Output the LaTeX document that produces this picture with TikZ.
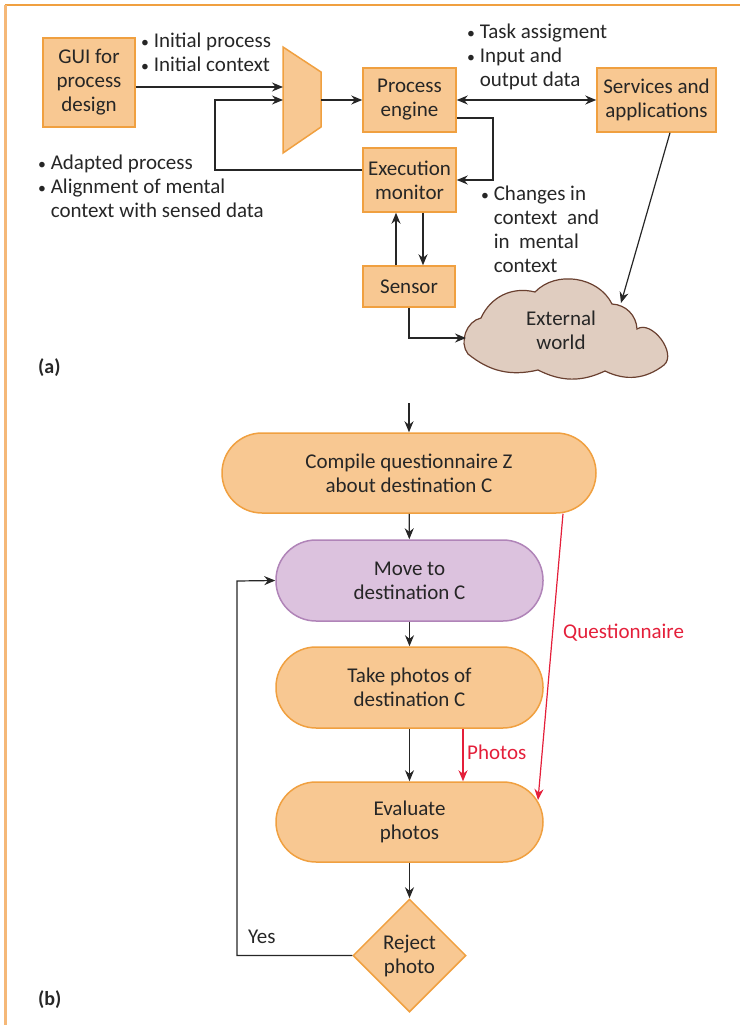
\documentclass[tikz,border=0pt]{standalone}
\usepackage{fontspec}
\usepackage{graphicx}
\setmainfont{Carlito}
\usetikzlibrary{arrows.meta,shapes.geometric}
\definecolor{boxfill}{HTML}{F8C892}
\definecolor{boxline}{HTML}{F0A040}
\definecolor{ink}{HTML}{262626}
\definecolor{purfill}{HTML}{DCC2DE}
\definecolor{purline}{HTML}{B084B8}
\definecolor{cloudfill}{HTML}{E0CDC0}
\definecolor{cloudline}{HTML}{6A4030}
\definecolor{redink}{HTML}{E41F3A}
\definecolor{frametop}{HTML}{F0A040}
\definecolor{frameleft}{HTML}{F5B878}
\newcommand{\bul}{\scalebox{0.75}{\textbullet}\ }
\newcommand{\bulgap}{\hphantom{\bul}}
\begin{document}
\begin{tikzpicture}[x=1pt,y=-1pt,
  every node/.style={font=\fontsize{21}{24}\selectfont, text=ink},
  box/.style={draw=boxline, fill=boxfill, line width=1.5pt, align=center, inner sep=0pt},
  pill/.style={box, rounded corners=40pt, minimum width=267pt, minimum height=81pt},
  purple pill/.style={pill, draw=purline, fill=purfill},
  decision/.style={box, diamond, aspect=1, minimum width=113pt, minimum height=113pt},
  note/.style={align=left, anchor=west, inner sep=0pt},
  redlabel/.style={anchor=west, inner sep=0pt, text=redink},
  conn/.style={draw=ink, line width=1.2pt},
  arr/.style={conn, -{Stealth[length=11pt,width=9pt]}},
  biarr/.style={conn, {Stealth[length=11pt,width=9pt]}-{Stealth[length=11pt,width=9pt]}},
  redarr/.style={draw=redink, line width=1.2pt, -{Stealth[length=11pt,width=9pt]}},
  panel/.style={anchor=west, inner sep=0pt, font=\fontsize{20}{24}\selectfont\bfseries}
]
\useasboundingbox (0,0) rectangle (740,1025);

% outer frame (top and left rules)
\draw[frametop, line width=2pt] (5,5.5) -- (740,5.5);
\draw[frameleft, line width=2.2pt] (5.5,5) -- (5.5,1025);

% ---------------- (a) ----------------
\node[box, minimum width=92pt, minimum height=89pt] (gui) at (89,82.5) {GUI for\\process\\design};
\node[box, minimum width=93pt, minimum height=64pt] (pe) at (409.5,100) {Process\\engine};
\node[box, minimum width=93pt, minimum height=64pt] (em) at (409.5,180) {Execution\\monitor};
\node[box, minimum width=119pt, minimum height=64pt] (sa) at (656.5,100) {Services and\\applications};
\node[box, minimum width=92pt, minimum height=41pt] (sen) at (409,286.5) {Sensor};

% external world cloud, built from circular puffs
\draw[draw=cloudline, fill=cloudfill, line width=1.2pt]
  (468,354) to[bend left=58] (481,318)
            to[bend left=40] (535,292)
            to[bend left=55] (612,304)
            to[bend left=42] (637,329)
            to[bend left=86] (664,365)
            to[bend left=32] (605,371)
            to[bend left=26] (538,370)
            to[bend left=26] cycle;
\node[align=center, inner sep=0pt] (cld) at (561,330) {External\\world};

% input selector
\draw[boxline, fill=boxfill, line width=1.5pt] (283,47) -- (321,72) -- (321,127) -- (283,153) -- cycle;
\coordinate (muxA) at (283,87);
\coordinate (muxB) at (283,100);
\coordinate (muxout) at (321,100);

\coordinate (fb) at (215,170);
\coordinate (pebr) at (493,118);
\coordinate (upx) at (396,240);
\coordinate (dnx) at (423,240);
\coordinate (cin) at (466,338);
\coordinate (sax) at (670,150);
\coordinate (ctop) at (621,303);

\draw[arr] (gui.east |- muxA) -- (muxA);
\draw[arr] (em.west |- fb) -- (fb) |- (muxB);
\draw[arr] (muxout) -- (pe.west |- muxout);
\draw[biarr] (pe.east) -- (sa.west);
\draw[arr] (pe.east |- pebr) -- (pebr) |- (em.east);
\draw[arr] (sen.north -| upx) -- (em.south -| upx);
\draw[arr] (em.south -| dnx) -- (sen.north -| dnx);
\draw[arr] (sen.south) |- (cin);
\draw[arr] (sa.south -| sax) -- (ctop);

\node[note] (n1) at (141,52) {\bul Initial process\\\bul Initial context};
\node[note] (n2) at (467,57) {\bul Task assigment\\\bul Input and\\\bulgap output data};
\node[note] (n3) at (38,186) {\bul Adapted process\\\bul Alignment of mental\\\bulgap context with sensed data};
\node[note] (n4) at (481,229) {\bul Changes in\\\bulgap context~ and\\\bulgap in~ mental\\\bulgap context};

\node[panel] (pa) at (38,368) {(a)};

% ---------------- (b) ----------------
\coordinate (entry) at (409,403);
\node[pill, minimum width=374pt, minimum height=80pt] (cq) at (409,473) {Compile questionnaire Z\\about destination C};
\node[purple pill] (mv) at (409.5,580.5) {Move to\\destination C};
\node[pill] (tp) at (409.5,687.5) {Take photos of\\destination C};
\node[pill, minimum height=80pt] (ev) at (409.5,822) {Evaluate\\photos};
\node[decision] (rj) at (409.5,955.5) {Reject\\photo};

\coordinate (loopc) at (237,581);
\coordinate (px) at (463,760);
\coordinate (qx) at (563,600);
\coordinate (qend) at (538,800);

\draw[arr] (entry) -- (cq.north);
\draw[arr] (cq) -- (mv);
\draw[arr] (mv) -- (tp);
\draw[arr] (tp) -- (ev);
\draw[arr] (ev) -- (rj);
\draw[arr] (rj.west) -| (loopc) -- (mv.west);
\draw[redarr] (tp.south -| px) -- (ev.north -| px);
\draw[redarr] (cq.south -| qx) -- (qend);

\node[redlabel] (lq) at (563,633) {Questionnaire};
\node[redlabel] (lp) at (467,752) {Photos};
\node[anchor=west, inner sep=0pt] (ly) at (248,937) {Yes};

\node[panel] (pb) at (38,1000) {(b)};
\end{tikzpicture}
\end{document}
